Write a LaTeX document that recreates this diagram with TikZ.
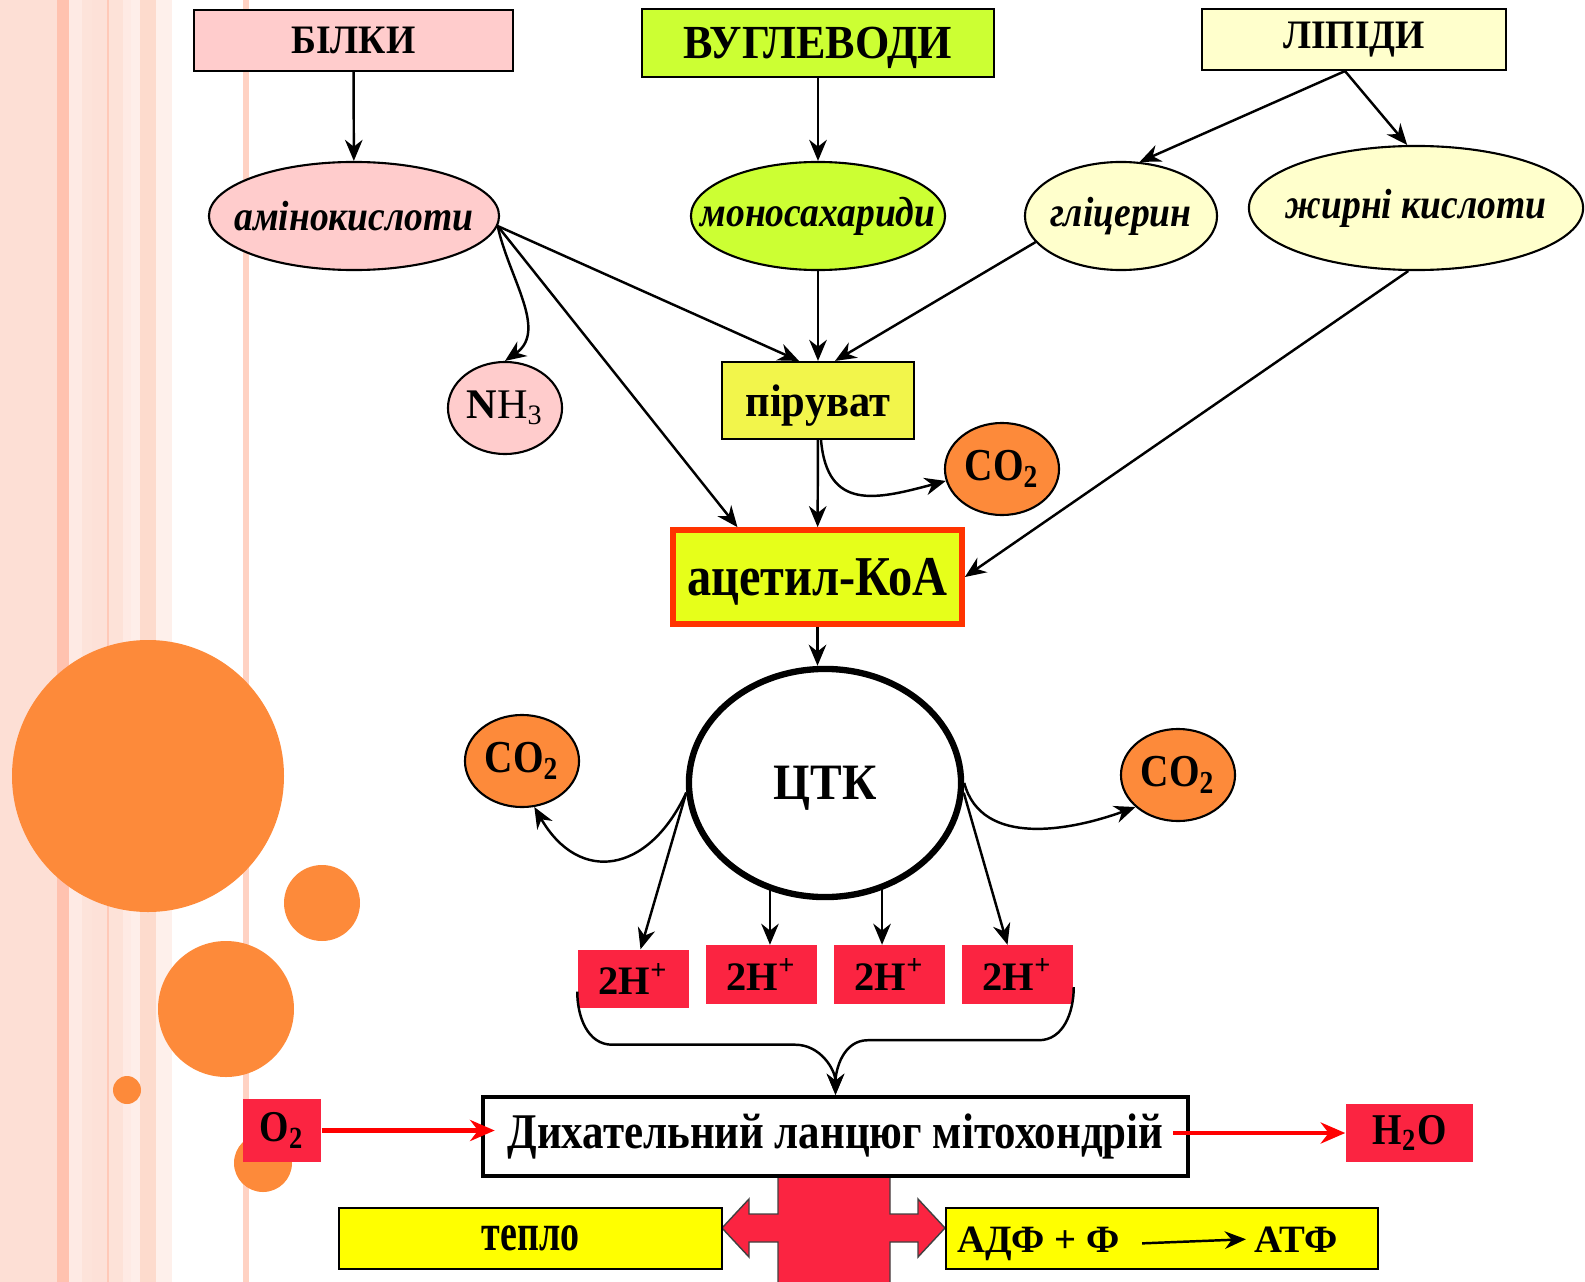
\documentclass[tikz,border=0pt]{standalone}
\usepackage{fontspec}
\setmainfont{Liberation Serif}
\newfontfamily\narrow{Liberation Serif}[FakeStretch=0.86]
\newfontfamily\oblq{Liberation Serif}[FakeStretch=0.89]
\newfontfamily\semi{Liberation Serif}[FakeStretch=0.93]
\newfontfamily\slim{Liberation Serif}[FakeStretch=0.72]
\usetikzlibrary{arrows.meta,shapes.geometric}

\definecolor{bilkycol}{HTML}{FFCCCC}
\definecolor{vuhlcol}{HTML}{CCFF33}
\definecolor{lipidcol}{HTML}{FFFFCC}
\definecolor{piruvcol}{HTML}{F2F54B}
\definecolor{acetcol}{HTML}{E6FF1A}
\definecolor{acetrim}{HTML}{FF3300}
\definecolor{bubble}{HTML}{FD8A3A}
\definecolor{proton}{HTML}{FB2441}
\definecolor{energy}{HTML}{FFFF00}

\tikzset{
  box/.style={draw,line width=0.6pt,inner sep=0pt,font=\bfseries},
  oval/.style={draw,ellipse,line width=0.6pt,inner sep=0pt},
  ovaltext/.style={inner sep=0pt,font=\oblq\bfseries\itshape\fontsize{12}{12}\selectfont},
  gas/.style={draw,ellipse,fill=bubble,line width=0.6pt,inner sep=0pt,minimum width=1.14cm,minimum height=0.92cm,font=\narrow\bfseries\fontsize{13}{13}\selectfont},
  hplus/.style={fill=proton,inner sep=0pt,minimum width=1.11cm,minimum height=0.58cm,font=\bfseries\fontsize{11.5}{11.5}\selectfont},
  arr/.style={-{Stealth[length=6pt,width=5pt]},line width=0.7pt},
  redarr/.style={-{Stealth[length=7pt,width=6pt]},line width=1.2pt,red}
}

\begin{document}
\begin{tikzpicture}[x=0.01cm,y=0.01cm]
\useasboundingbox (0,0) rectangle (1585,-1282);
% background stripes and bubbles
\foreach \a/\b/\c in {0/57/FDDFD5,57/69/FFC2AF,69/82/FEEAE4,82/92/FDE3DA,92/107/FDE1D8,107/109/FFC9B8,109/123/FDE2D8,123/131/FEEAE4,131/140/FEEEE9,140/156/FDDBCD,156/172/FEF0EB,243/249/FFD2C3}{
  \definecolor{stripe}{HTML}{\c}
  \fill[stripe] (\a,0) rectangle (\b,-1282);
}
\fill[bubble] (148,-776) circle (136);
\fill[bubble] (322,-903) circle (38);
\fill[bubble] (226,-1009) circle (68);
\fill[bubble] (127,-1090) circle (14);
\fill[bubble] (263,-1163) circle (29);

% energy cross
\filldraw[fill=proton,draw=black!75,line width=0.4pt] (778,-1176) -- (890,-1176) -- (890,-1214) -- (918,-1214) -- (918,-1199) -- (945,-1228) -- (918,-1257) -- (918,-1242) -- (890,-1242) -- (890,-1290) -- (778,-1290) -- (778,-1242) -- (749,-1242) -- (749,-1257) -- (722,-1228) -- (749,-1199) -- (749,-1214) -- (778,-1214) -- cycle;

% sources
\node[box,fill=bilkycol,minimum width=3.19cm,minimum height=0.61cm,text depth=0pt,font=\semi\bfseries\fontsize{11.5}{11.5}\selectfont] (bilky) at (353.5,-40.5) {БІЛКИ};
\node[box,fill=vuhlcol,minimum width=3.52cm,minimum height=0.68cm,text depth=0pt,font=\semi\bfseries\fontsize{13.5}{13.5}\selectfont] (vuhl) at (818,-43) {ВУГЛЕВОДИ};
\node[box,fill=lipidcol,minimum width=3.04cm,minimum height=0.61cm,font=\semi\bfseries\fontsize{11.5}{11.5}\selectfont] (lipidy) at (1354,-39.5) {ЛІПІДИ};

\node[oval,fill=bilkycol,minimum width=2.90cm,minimum height=1.08cm,label={[ovaltext]center:амінокислоти}] (amino) at (354,-216) {};
\node[oval,fill=vuhlcol,minimum width=2.54cm,minimum height=1.08cm,label={[ovaltext]center:моносахариди}] (mono) at (818,-216) {};
\node[oval,fill=lipidcol,minimum width=1.92cm,minimum height=1.08cm,label={[ovaltext]center:гліцерин}] (glic) at (1121,-216) {};
\node[oval,fill=lipidcol,minimum width=3.34cm,minimum height=1.24cm,label={[ovaltext]center:жирні кислоти}] (fatty) at (1416,-208) {};

\node[gas,fill=bilkycol,font=\fontsize{12}{12}\selectfont] (nh3) at (505,-408) {\textbf{N}H\textsubscript{3}};
\node[box,fill=piruvcol,minimum width=1.92cm,minimum height=0.77cm,text depth=0pt,font=\semi\bfseries\fontsize{13}{13}\selectfont] (pyr) at (818,-400.5) {піруват};
\node[gas] (co2a) at (1002,-469) {CO\textsubscript{2}};
\node[box,fill=acetcol,draw=acetrim,line width=1.6pt,minimum width=2.89cm,minimum height=0.94cm,text depth=0pt,font=\narrow\bfseries\fontsize{16}{16}\selectfont] (acet) at (817.5,-577) {ацетил-КоА};

\node[draw,ellipse,line width=1.8pt,minimum width=2.72cm,minimum height=2.28cm,text depth=0pt,font=\semi\bfseries\fontsize{14.5}{14.5}\selectfont] (tca) at (825,-783) {ЦТК};
\node[gas] (co2b) at (522,-761) {CO\textsubscript{2}};
\node[gas] (co2c) at (1178,-775) {CO\textsubscript{2}};

\node[hplus] (h1) at (633.5,-979) {2H\textsuperscript{+}};
\node[hplus] (h2) at (761.5,-974.5) {2H\textsuperscript{+}};
\node[hplus] (h3) at (889.5,-974.5) {2H\textsuperscript{+}};
\node[hplus] (h4) at (1017.5,-974.5) {2H\textsuperscript{+}};

\node[box,fill=white,line width=1.2pt,minimum width=7.05cm,minimum height=0.79cm,font=\narrow\bfseries\fontsize{14.2}{14.2}\selectfont] (dyh) at (835.5,-1136.5) {Дихательний ланцюг мітохондрій};
\node[fill=proton,inner sep=0pt,minimum width=0.78cm,minimum height=0.63cm,font=\narrow\bfseries\fontsize{12.5}{12.5}\selectfont] (o2) at (282,-1130.5) {O\textsubscript{2}};
\node[fill=proton,inner sep=0pt,minimum width=1.27cm,minimum height=0.58cm,font=\narrow\bfseries\fontsize{12.5}{12.5}\selectfont] (h2o) at (1409.5,-1133) {H\textsubscript{2}O};

\node[box,fill=energy,line width=0.5pt,minimum width=3.83cm,minimum height=0.61cm,font=\slim\bfseries\fontsize{15}{15}\selectfont] (heat) at (530.5,-1238.5) {тепло};
\node[box,fill=energy,line width=0.5pt,minimum width=4.32cm,minimum height=0.61cm] (atpbox) at (1162,-1238.5) {};
\node[inner sep=0pt,anchor=base,font=\bfseries\fontsize{11}{11}\selectfont] (adf) at (1038.5,-1252) {АДФ + Ф};
\node[inner sep=0pt,anchor=base,font=\bfseries\fontsize{11}{11}\selectfont] (atf) at (1296,-1252) {АТФ};
\draw[arr] ([xshift=0.22cm]adf.east) -- ([xshift=-0.08cm]atf.west);

% connectors
\draw[arr] (bilky) -- (amino);
\draw[arr] (vuhl) -- (mono);
\draw[arr] ([xshift=-0.09cm]lipidy.south) -- (glic.71);
\draw[arr] ([xshift=-0.09cm]lipidy.south) -- (fatty.98);
\coordinate (aout) at (amino.-4);
\draw[arr] (aout) -- ([xshift=-0.19cm]pyr.north);
\draw[arr] (aout) -- ([xshift=-0.8cm]acet.north);
\draw[arr] (aout) to[out=-78,in=35] (nh3.north);
\draw[arr] (mono) -- (pyr);
\draw[arr] (glic.197) -- ([xshift=0.17cm]pyr.north);
\draw[arr] (fatty.-97) -- (acet.east);
\draw[arr] (pyr) -- (acet);
\draw[arr] ([xshift=0.03cm]pyr.south) to[out=-85,in=195,looseness=1.4] (co2a.192);
\draw[arr] (acet) -- (acet.south |- tca.north);

\draw[arr] (tca.184) -- ([xshift=0.07cm]h1.north);
\draw[arr] (tca.184) to[out=-115,in=-60,looseness=1.5] (co2b.-75);
\draw[arr] ([xshift=-0.55cm,yshift=0.14cm]tca.south) -- ([xshift=-0.55cm]tca.south |- h2.north);
\draw[arr] ([xshift=0.57cm,yshift=0.14cm]tca.south) -- ([xshift=0.57cm]tca.south |- h3.north);
\draw[arr] (tca.-4) -- ([xshift=-0.1cm]h4.north);
\draw[arr] (tca.east) to[out=-75,in=200] (co2c.217);

\draw[arr] ([yshift=0.17cm]h1.south west) to[out=-90,in=180] ++(35,-53) -- ++(183,0) to[out=0,in=90] (dyh.north);
\draw[arr] ([yshift=0.17cm]h4.south east) to[out=-90,in=0] ++(-35,-53) -- ++(-171,0) to[out=180,in=90] (dyh.north);

\draw[redarr] (o2) -- ([xshift=0.14cm]o2 -| dyh.west);
\draw[redarr] ([xshift=-0.17cm]dyh.east |- h2o) -- (h2o);
\end{tikzpicture}
\end{document}
